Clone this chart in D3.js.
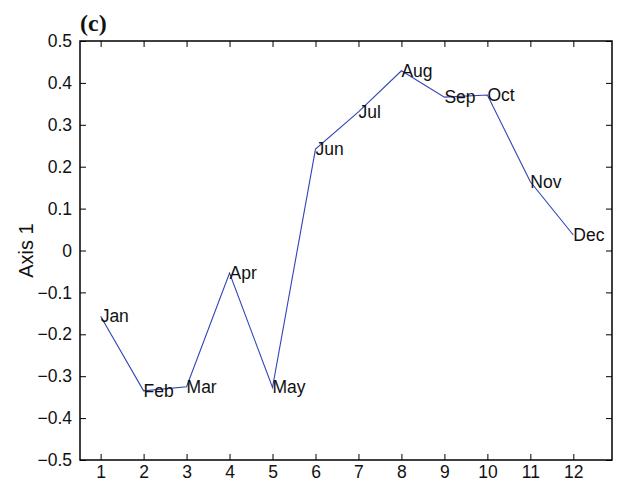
<!DOCTYPE html>
<html>
<head>
<meta charset="utf-8">
<script src="https://cdn.jsdelivr.net/npm/d3@7"></script>
<style>
  html, body { margin: 0; padding: 0; background: #fff; }
  svg { display: block; font-family: "Liberation Sans", Arial, Helvetica, sans-serif; }
</style>
</head>
<body>
<svg id="chart" width="617" height="482"></svg>
<script>
// Monthly scores on the first axis
const months = ["Jan", "Feb", "Mar", "Apr", "May", "Jun", "Jul", "Aug", "Sep", "Oct", "Nov", "Dec"];
const monthIndex = [1, 2, 3, 4, 5, 6, 7, 8, 9, 10, 11, 12];
const axis1Values = [-0.157, -0.335, -0.325, -0.054, -0.327, 0.242, 0.331, 0.429, 0.366, 0.371, 0.164, 0.037];
const xTicks = [1, 2, 3, 4, 5, 6, 7, 8, 9, 10, 11, 12];
const yTicks = [-0.5, -0.4, -0.3, -0.2, -0.1, 0, 0.1, 0.2, 0.3, 0.4, 0.5];

(function () {
  const svg = d3.select("#chart");
  const plotLeft = 80, plotRight = 612, plotTop = 41, plotBottom = 460;
  const fontSize = "17.5px";

  const x = d3.scaleLinear().domain([0.52, 12.9]).range([plotLeft, plotRight]);
  const y = d3.scaleLinear().domain([-0.5, 0.5]).range([plotBottom, plotTop]);

  const fmtY = v => (Math.abs(v) < 1e-9 ? "0" : d3.format(".1f")(v));

  // Inward ticks on all four sides
  const tickLen = 6;
  const axB = svg.append("g").attr("transform", `translate(0,${plotBottom})`)
    .call(d3.axisBottom(x).tickValues(xTicks).tickSize(-tickLen).tickPadding(6).tickFormat(d3.format("d")));
  const axT = svg.append("g").attr("transform", `translate(0,${plotTop})`)
    .call(d3.axisTop(x).tickValues(xTicks).tickSize(-tickLen).tickFormat(""));
  const axL = svg.append("g").attr("transform", `translate(${plotLeft},0)`)
    .call(d3.axisLeft(y).tickValues(yTicks).tickSize(-tickLen).tickPadding(8).tickFormat(fmtY));
  const axR = svg.append("g").attr("transform", `translate(${plotRight},0)`)
    .call(d3.axisRight(y).tickValues(yTicks).tickSize(-tickLen).tickFormat(""));

  [axB, axT, axL, axR].forEach(g => {
    g.select(".domain").remove();
    g.selectAll(".tick line").attr("stroke", "#000").attr("stroke-width", 1);
    g.selectAll(".tick text").attr("fill", "#111").style("font-size", fontSize);
  });
  axB.selectAll(".tick text").attr("dy", "0.71em");

  // Plot frame
  svg.append("rect")
    .attr("x", plotLeft).attr("y", plotTop)
    .attr("width", plotRight - plotLeft).attr("height", plotBottom - plotTop)
    .attr("fill", "none").attr("stroke", "#000").attr("stroke-width", 1.5);

  const pts = monthIndex.map((m, i) => ({ m, v: axis1Values[i], name: months[i] }));

  // Connecting line
  svg.append("path")
    .datum(pts)
    .attr("fill", "none")
    .attr("stroke", "#2f45b5")
    .attr("stroke-width", 1.1)
    .attr("d", d3.line().x(d => x(d.m)).y(d => y(d.v)));

  // Month labels placed at each point
  svg.append("g").selectAll("text")
    .data(pts)
    .join("text")
    .attr("x", d => x(d.m))
    .attr("y", d => y(d.v))
    .attr("dy", "0.34em")
    .attr("fill", "#111")
    .style("font-size", fontSize)
    .text(d => d.name);

  // Y axis title
  svg.append("text")
    .attr("transform", `translate(33,${(plotTop + plotBottom) / 2}) rotate(-90)`)
    .attr("text-anchor", "middle")
    .attr("fill", "#111")
    .style("font-size", "20px")
    .text("Axis 1");

  // Panel letter
  svg.append("text")
    .attr("x", 80).attr("y", 31)
    .attr("fill", "#111")
    .style("font-family", "'Liberation Serif', 'Times New Roman', serif")
    .style("font-weight", "bold")
    .style("font-size", "24px")
    .text("(c)");
})();
</script>
</body>
</html>
